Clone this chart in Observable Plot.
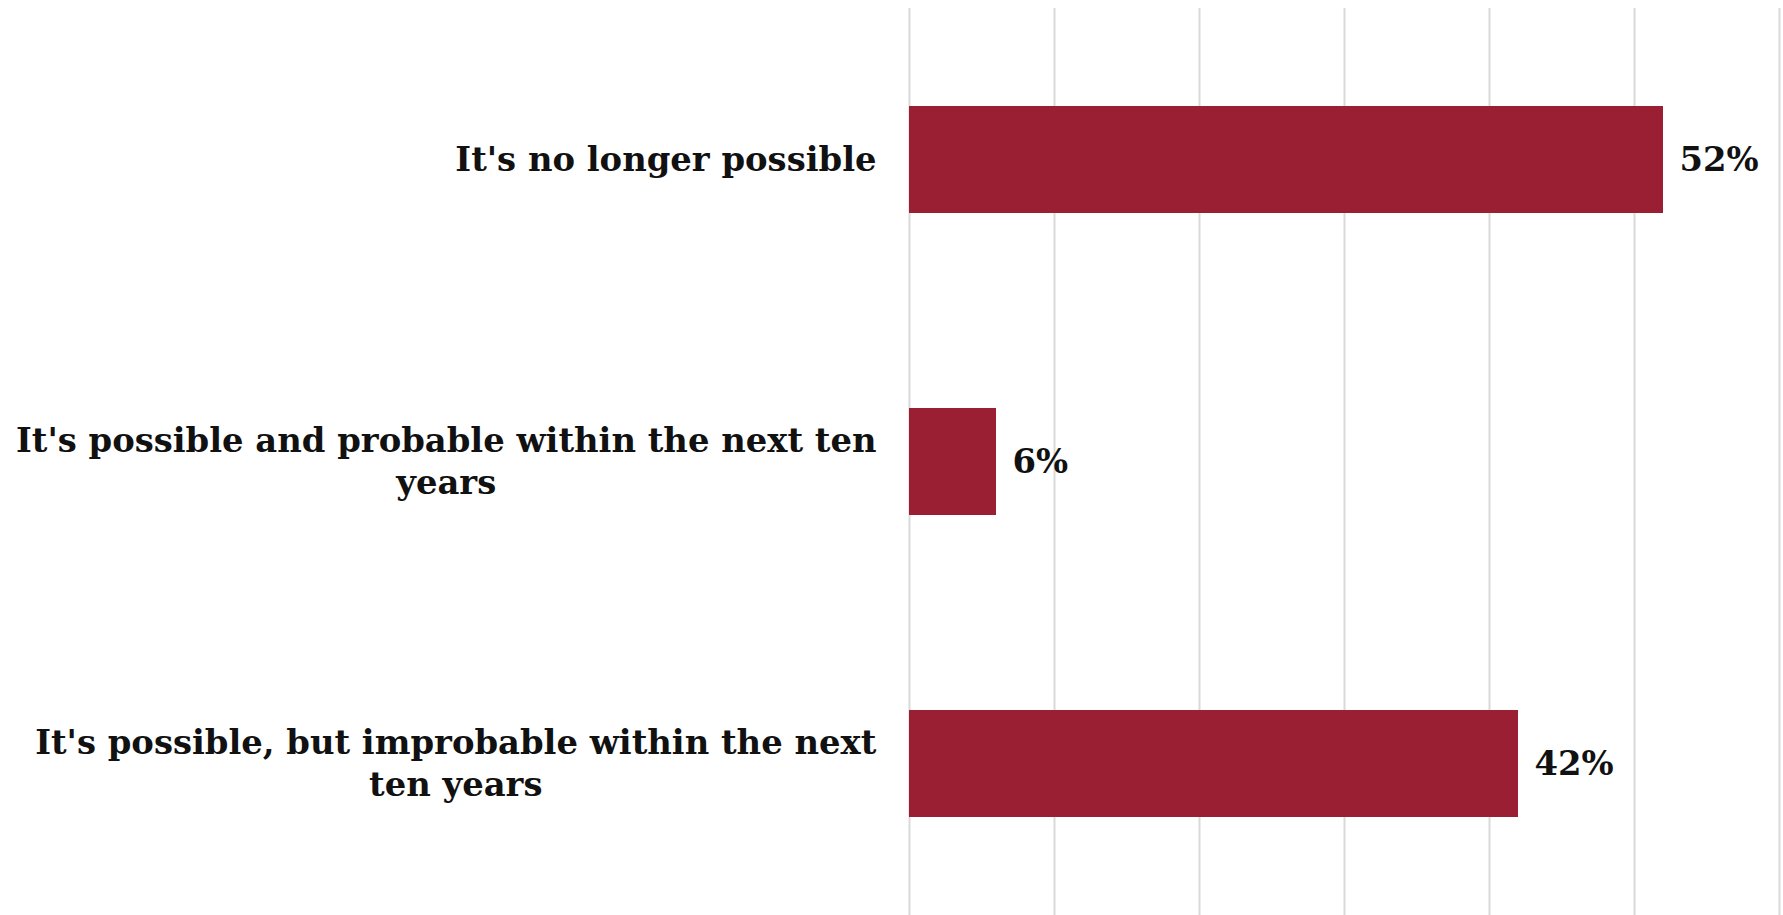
<!DOCTYPE html>
<html>
<head>
<meta charset="utf-8">
<script src="https://cdn.jsdelivr.net/npm/d3@7"></script>
<script src="https://cdn.jsdelivr.net/npm/@observablehq/plot@0.6"></script>
<style>
  html, body { margin: 0; padding: 0; background: #fff; }
  #chart svg { display: block; }
</style>
</head>
<body>
<div id="chart"></div>
<script>
const categories = [
  "It's no longer possible",
  "It's possible and probable within the next ten years",
  "It's possible, but improbable within the next ten years"
];
const tickLabels = [
  "It's no longer possible",
  "It's possible and probable within the next ten\nyears",
  "It's possible, but improbable within the next\nten years"
];
const values = [52, 6, 42];
const xTicks = [0, 10, 20, 30, 40, 50, 60];

const data = categories.map((c, i) => ({category: c, value: values[i]}));
const labelOf = new Map(categories.map((c, i) => [c, tickLabels[i]]));

const chart = Plot.plot({
  width: 1783,
  height: 915,
  marginLeft: 909,
  marginRight: 4,
  marginTop: 8,
  marginBottom: 0,
  style: {
    fontFamily: "'DejaVu Serif', serif",
    fontWeight: "bold",
    fontSize: "33.8px",
    color: "#111111",
    background: "#ffffff"
  },
  x: {domain: [0, 60], axis: null},
  y: {domain: categories, paddingInner: 0.647, paddingOuter: 0.3235, label: null},
  marks: [
    Plot.gridX(xTicks, {stroke: "#d9d9d9", strokeOpacity: 1, strokeWidth: 2}),
    Plot.barX(data, {x: "value", y: "category", fill: "#9b1f33"}),
    Plot.text(data, {
      x: "value", y: "category", text: d => `${d.value}%`,
      textAnchor: "start", dx: 16, fill: "#111111", fontWeight: "bold"
    }),
    Plot.axisY({
      tickSize: 0, tickPadding: 33, label: null, dy: -2,
      tickFormat: d => labelOf.get(d), lineHeight: 1.24,
      fill: "#111111"
    })
  ]
});
document.getElementById("chart").appendChild(chart);

// Center the lines of wrapped labels within their right-aligned block (as in the reference)
chart.querySelectorAll("text").forEach(t => {
  const spans = t.querySelectorAll("tspan");
  if (spans.length > 1) {
    const w = t.getBBox().width;
    t.setAttribute("text-anchor", "middle");
    t.style.textAnchor = "middle";
    spans.forEach(s => { s.style.textAnchor = "middle"; });
    const tr = t.getAttribute("transform") || "";
    t.setAttribute("transform", tr + ` translate(${-w / 2},0)`);
  }
});
</script>
</body>
</html>
